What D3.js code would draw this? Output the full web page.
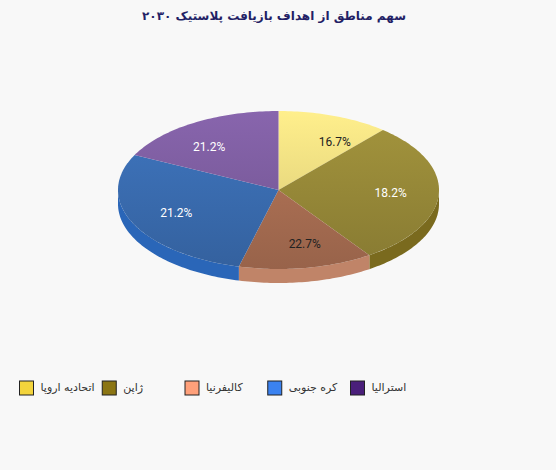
<!DOCTYPE html>
<html>
<head>
<meta charset="utf-8">
<script src="https://cdn.jsdelivr.net/npm/d3@7"></script>
<style>
  html, body { margin: 0; padding: 0; background: #f8f8f8; }
  svg { display: block; }
</style>
</head>
<body>
<svg id="chart"></svg>
<script>
const width = 556;
const height = 470;

// data
const titleText = 'سهم مناطق از اهداف بازیافت پلاستیک ۲۰۳۰';
const regions = ['اتحادیه اروپا', 'ژاپن', 'کالیفرنیا', 'کره جنوبی', 'استرالیا'];
const shares = [16.7, 18.2, 22.7, 21.2, 21.2];
const legendColors = ['#f3d43c', '#8b7513', '#ffa07a', '#3b82f0', '#4a1f7a'];
const faceColors = ['#ecdb80', '#968838', '#a96e52', '#3a6cb0', '#7c5c9e'];
const sideColors = ['#d9c65e', '#7a6a1e', '#c08468', '#2a66b8', '#5e3f84'];
const labelColors = ['#222', '#fff', '#222', '#fff', '#fff'];

const svg = d3.select('#chart')
  .attr('width', width)
  .attr('height', height);

svg.append('rect')
  .attr('width', width)
  .attr('height', height)
  .attr('fill', '#f8f8f8');

// title
svg.append('text')
  .attr('x', 274)
  .attr('y', 20)
  .attr('text-anchor', 'middle')
  .style('font-family', 'DejaVu Sans')
  .style('font-weight', 'bold')
  .style('font-size', '12px')
  .attr('fill', '#231f66')
  .text(titleText);

// pie geometry (tilted ellipse)
const cx = 278.5, cy = 190, rx = 160.5, ry = 79, depth = 14;

const slices = d3.pie().sort(null).value(d => d)(shares)
  .map((s, i) => ({ ...s, i }));

// boundaries run along the screen direction of the pie angle
const toParam = a => Math.atan2(Math.sin(a) / rx, Math.cos(a) / ry);
const unwrap = (t, ref) => { while (t < ref - 1e-9) t += 2 * Math.PI; return t; };
const pt = (t, dy = 0) => [cx + rx * Math.sin(t), cy - ry * Math.cos(t) + dy];

slices.forEach(s => {
  s.t0 = unwrap(toParam(s.startAngle), 0);
  if (s.startAngle === 0) s.t0 = 0;
  s.t1 = unwrap(toParam(s.endAngle), s.t0);
  if (s.endAngle >= 2 * Math.PI - 1e-9) s.t1 = 2 * Math.PI;
});

const defs = svg.append('defs');
slices.forEach(s => {
  const g = defs.append('linearGradient')
    .attr('id', 'face' + s.i)
    .attr('gradientUnits', 'userSpaceOnUse')
    .attr('x1', 0).attr('y1', cy - ry)
    .attr('x2', 0).attr('y2', cy + ry);
  const c = faceColors[s.i];
  g.append('stop').attr('offset', '0%').attr('stop-color', d3.color(c).brighter(0.25));
  g.append('stop').attr('offset', '100%').attr('stop-color', d3.color(c).darker(0.3));
});

const arcPath = (ta, tb, dy) => {
  const steps = Math.max(2, Math.ceil((tb - ta) / 0.02));
  return d3.range(steps + 1).map(k => pt(ta + (tb - ta) * k / steps, dy));
};

// side walls on the front half
const sideLayer = svg.append('g');
slices.forEach(s => {
  const a = Math.max(s.t0, Math.PI / 2);
  const b = Math.min(s.t1, 3 * Math.PI / 2);
  if (b <= a) return;
  const top = arcPath(a, b, 0);
  const bottom = arcPath(a, b, depth).reverse();
  sideLayer.append('path')
    .attr('d', d3.line()(top.concat(bottom)) + 'Z')
    .attr('fill', sideColors[s.i]);
});

// top faces
const faceLayer = svg.append('g');
slices.forEach(s => {
  const pts = [[cx, cy]].concat(arcPath(s.t0, s.t1, 0));
  faceLayer.append('path')
    .attr('d', d3.line()(pts) + 'Z')
    .attr('fill', `url(#face${s.i})`);
});

// labels
faceLayer.selectAll('text.lbl')
  .data(slices)
  .join('text')
  .attr('class', 'lbl')
  .attr('x', d => cx + 0.7 * rx * Math.sin((d.startAngle + d.endAngle) / 2))
  .attr('y', d => cy - 0.7 * ry * Math.cos((d.startAngle + d.endAngle) / 2))
  .attr('text-anchor', 'middle')
  .attr('dominant-baseline', 'central')
  .style('font-family', 'Roboto')
  .style('font-size', '12px')
  .attr('fill', d => labelColors[d.i])
  .text(d => d.data.toFixed(1) + '%');

// legend
const legendX = d3.scaleLinear().domain([0, regions.length - 1]).range([19.5, 350.5]);
const legend = svg.append('g')
  .selectAll('g')
  .data(regions)
  .join('g')
  .attr('transform', (d, i) => `translate(${legendX(i)},381)`);

legend.append('rect')
  .attr('width', 14)
  .attr('height', 14)
  .attr('fill', (d, i) => legendColors[i])
  .attr('stroke', '#222')
  .attr('stroke-width', 1);

legend.append('text')
  .attr('x', 21)
  .attr('y', 6)
  .attr('dominant-baseline', 'central')
  .style('font-family', 'DejaVu Sans')
  .style('font-size', '11px')
  .attr('fill', '#333')
  .text(d => d);
</script>
</body>
</html>
